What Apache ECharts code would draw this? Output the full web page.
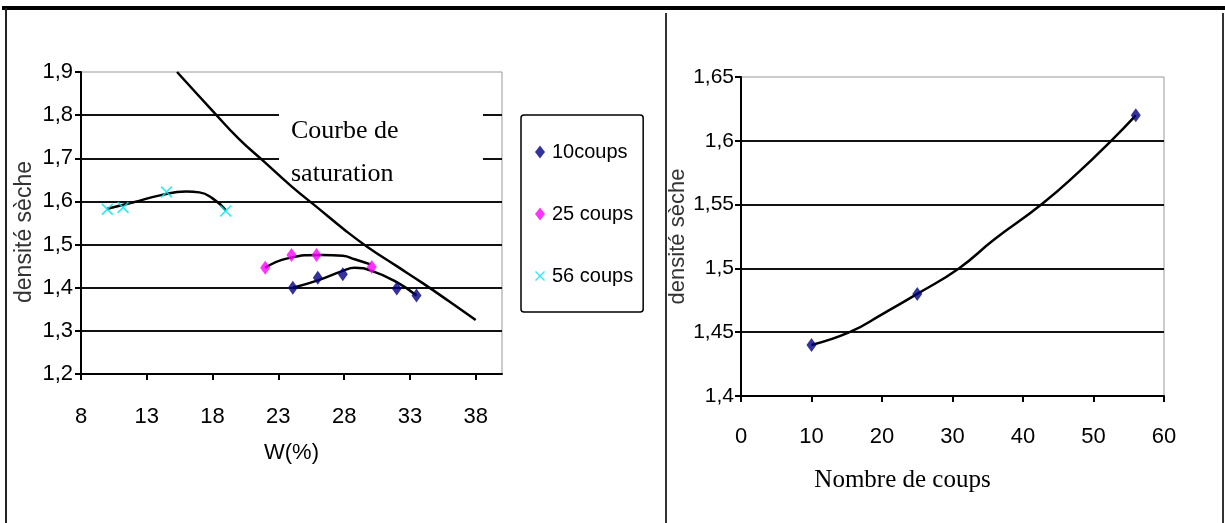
<!DOCTYPE html>
<html>
<head>
<meta charset="utf-8">
<script src="https://cdn.jsdelivr.net/npm/echarts@6/dist/echarts.min.js"></script>
<style>
  html, body { margin: 0; padding: 0; background: #fff; }
  #chart { width: 1225px; height: 523px; }
</style>
</head>
<body>
<div id="chart"></div>
<script>
// essais Proctor : [W (%), densité sèche]
var coups10 = [[24.1, 1.40], [26, 1.423], [27.9, 1.431], [32, 1.398], [33.5, 1.382]]
var coups25 = [[22, 1.446], [24, 1.476], [25.9, 1.476], [30.1, 1.448]]
var coups56 = [[10, 1.582], [11.2, 1.586], [14.5, 1.622], [19, 1.578]]
// courbes de tendance
var trend10 = [[24.1, 1.40], [26, 1.417], [27.9, 1.439], [28.8, 1.446], [30.1, 1.439], [32, 1.413], [33.5, 1.382]]
var trend25 = [[22, 1.446], [23.7, 1.468], [26.3, 1.476], [27.9, 1.474], [28.8, 1.466], [30, 1.454]]
var trend56 = [[10, 1.583], [12, 1.598], [14, 1.614], [16, 1.623], [17, 1.621], [18, 1.607], [19, 1.58]]
var saturation = [[15.3, 1.9], [18, 1.81], [20, 1.745], [22, 1.69], [24, 1.635], [26, 1.585], [28, 1.535], [29.8, 1.494], [32, 1.45], [34, 1.41], [36, 1.368], [38, 1.325]]
var wTicks = [8, 13, 18, 23, 28, 33, 38]
var seriesNames = ['10coups', '25 coups', '56 coups']
// densité max en fonction du nombre de coups
var nbCoups = [10, 25, 56]
var densiteMax = [1.44, 1.48, 1.62]
var trendCoups = [[10, 1.44], [15.4, 1.45], [20, 1.464], [25, 1.48], [30.9, 1.5], [36, 1.523], [42.6, 1.55], [48, 1.576], [52.5, 1.6], [56, 1.62]]

var labelFont = '"Liberation Sans", Arial, sans-serif'
var serifFont = '"Liberation Serif", "Times New Roman", serif'
var crossIcon = 'path://M0,1L1,0L5,4L9,0L10,1L6,5L10,9L9,10L5,6L1,10L0,9L4,5Z'

function virgule (v) {
  return String(+v.toFixed(2)).replace('.', ',')
}

function trendLine (data, xi) {
  return {
    type: 'line',
    xAxisIndex: xi,
    yAxisIndex: xi,
    data: data,
    smooth: true,
    showSymbol: false,
    silent: true,
    lineStyle: { color: '#000', width: 2.5 },
    z: 3
  }
}

var xData = nbCoups.map(function (n, i) { return [n, densiteMax[i]] })

var chart = echarts.init(document.getElementById('chart'))
chart.setOption({
  animation: false,
  backgroundColor: '#fff',
  grid: [
    { left: 81, top: 72, width: 421, height: 302, show: true, borderColor: '#999', borderWidth: 1, backgroundColor: 'transparent' },
    { left: 741, top: 77, width: 423, height: 319, show: true, borderColor: '#999', borderWidth: 1, backgroundColor: 'transparent' }
  ],
  legend: {
    data: seriesNames.map(function (n, i) {
      return { name: n, icon: i === 2 ? crossIcon : 'diamond' }
    }),
    orient: 'vertical',
    left: 521,
    top: 115,
    padding: [27, 10, 26, 14],
    itemGap: 42,
    itemWidth: 10,
    itemHeight: 13,
    borderColor: '#000',
    borderWidth: 1.5,
    borderRadius: 3,
    textStyle: { fontFamily: labelFont, fontSize: 20, color: '#000', padding: [0, 0, 0, 2] }
  },
  xAxis: [
    {
      gridIndex: 0,
      type: 'value',
      min: 8,
      max: 40,
      name: 'W(%)',
      nameLocation: 'middle',
      nameGap: 68,
      nameTextStyle: { fontFamily: labelFont, fontSize: 22, color: '#000' },
      axisLine: { onZero: false, lineStyle: { color: '#000', width: 2 } },
      axisTick: { customValues: wTicks, length: 6, lineStyle: { color: '#000', width: 2 } },
      axisLabel: { customValues: wTicks, margin: 32, fontFamily: labelFont, fontSize: 22, color: '#000' },
      splitLine: { show: false }
    },
    {
      gridIndex: 1,
      type: 'value',
      min: 0,
      max: 60,
      interval: 10,
      name: 'Nombre de coups',
      nameLocation: 'middle',
      nameGap: 72,
      nameTextStyle: { fontFamily: serifFont, fontSize: 25, color: '#000', verticalAlign: 'top', padding: [0, 100, 0, 0] },
      axisLine: { onZero: false, lineStyle: { color: '#000', width: 2 } },
      axisTick: { length: 6, lineStyle: { color: '#000', width: 2 } },
      axisLabel: { margin: 30, fontFamily: labelFont, fontSize: 22, color: '#000' },
      splitLine: { show: false }
    }
  ],
  yAxis: [
    {
      gridIndex: 0,
      type: 'value',
      min: 1.2,
      max: 1.9,
      interval: 0.1,
      name: 'densité sèche',
      nameLocation: 'middle',
      nameGap: 45,
      nameTextStyle: { fontFamily: labelFont, fontSize: 23, color: '#333', padding: [0, 18, 0, 0] },
      axisLine: { show: true, onZero: false, lineStyle: { color: '#000', width: 2 } },
      axisTick: { show: true, length: 6, lineStyle: { color: '#000', width: 2 } },
      axisLabel: { margin: 8, fontFamily: labelFont, fontSize: 22, color: '#000', formatter: virgule },
      splitLine: { show: true, showMinLine: false, showMaxLine: false, lineStyle: { color: '#111', width: 2 } }
    },
    {
      gridIndex: 1,
      type: 'value',
      min: 1.4,
      max: 1.65,
      interval: 0.05,
      name: 'densité sèche',
      nameLocation: 'middle',
      nameGap: 43,
      nameTextStyle: { fontFamily: labelFont, fontSize: 22, color: '#333' },
      axisLine: { show: true, onZero: false, lineStyle: { color: '#000', width: 2 } },
      axisTick: { show: true, length: 6, lineStyle: { color: '#000', width: 2 } },
      axisLabel: { margin: 7, fontFamily: labelFont, fontSize: 21, color: '#000', formatter: virgule },
      splitLine: { show: true, showMinLine: false, showMaxLine: false, lineStyle: { color: '#111', width: 2 } }
    }
  ],
  graphic: [
    // cadre du document
    { type: 'rect', shape: { x: 2, y: 6, width: 1223, height: 4 }, style: { fill: '#000' }, z: 10 },
    { type: 'rect', shape: { x: 5, y: 8, width: 2, height: 515 }, style: { fill: '#222' }, z: 10 },
    { type: 'rect', shape: { x: 665, y: 13, width: 2, height: 510 }, style: { fill: '#333' }, z: 10 },
    { type: 'rect', shape: { x: 1222, y: 13, width: 2, height: 510 }, style: { fill: '#333' }, z: 10 },
    // étiquette de la courbe de saturation
    { type: 'rect', shape: { x: 279, y: 100, width: 204, height: 80 }, style: { fill: '#fff' }, z: 1 },
    {
      type: 'text',
      left: 291,
      top: 110,
      z: 2,
      style: { text: 'Courbe de\nsaturation', font: '26px ' + serifFont, fill: '#000', lineHeight: 43 }
    }
  ],
  series: [
    trendLine(trend10, 0),
    trendLine(trend25, 0),
    trendLine(trend56, 0),
    trendLine(saturation, 0),
    trendLine(trendCoups, 1),
    {
      name: seriesNames[0],
      type: 'scatter',
      data: coups10,
      symbol: 'diamond',
      symbolSize: [10, 14],
      itemStyle: { color: '#000080' },
      z: 4
    },
    {
      name: seriesNames[1],
      type: 'scatter',
      data: coups25,
      symbol: 'diamond',
      symbolSize: [10, 14],
      itemStyle: { color: '#ff00ff' },
      z: 4
    },
    {
      name: seriesNames[2],
      type: 'scatter',
      data: coups56,
      symbol: crossIcon,
      symbolSize: 12,
      itemStyle: { color: '#00e5ee' },
      z: 4
    },
    {
      name: 'densité',
      type: 'scatter',
      xAxisIndex: 1,
      yAxisIndex: 1,
      data: xData,
      symbol: 'diamond',
      symbolSize: [10, 14],
      itemStyle: { color: '#000080' },
      z: 4
    }
  ]
})
</script>
</body>
</html>
